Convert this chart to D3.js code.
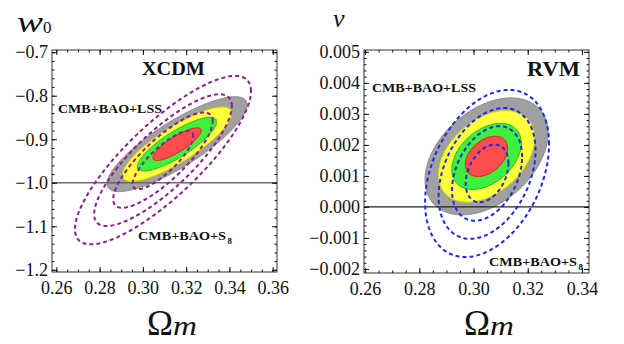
<!DOCTYPE html>
<html><head><meta charset="utf-8">
<script src="https://cdn.jsdelivr.net/npm/d3@7"></script>
<style>body{margin:0;background:#fff}svg{display:block}</style>
</head><body>
<svg id="c" width="624" height="344"></svg>
<script>
// ---------------- data ----------------
const sigmaLevels = [1.515, 2.486, 3.439, 4.397];        // 1..4 sigma (2 dof)
const fillColors  = ["#ff4d4d", "#3ff03f", "#ffff3c", "#a0a0a0"];
const fillStrokes = ["#d81c1c", "#22b522", "#d8d800", "#8a8a8a"];

// XCDM (w0 vs Omega_m)
const xcdmXTicks = [0.26, 0.28, 0.30, 0.32, 0.34, 0.36];
const xcdmYTicks = [-1.2, -1.1, -1.0, -0.9, -0.8, -0.7];
const xcdmLSSCenter = [0.3158, -0.9113];
const xcdmLSSSigma  = [0.00736, 0.0248];
const xcdmLSSRho    = 0.83;
const xcdmS8Center  = [0.3093, -0.9480];
const xcdmS8Sigma   = [0.00925, 0.0440];
const xcdmS8Rho     = 0.82;
const xcdmRefLine   = -1.0;

// RVM (nu vs Omega_m)
const rvmXTicks = [0.26, 0.28, 0.30, 0.32, 0.34];
const rvmYTicks = [-0.002, -0.001, 0.000, 0.001, 0.002, 0.003, 0.004, 0.005];
const rvmLSSCenter = [0.3048, 0.00163];
const rvmLSSSigma  = [0.00516, 0.000429];
const rvmLSSRho    = 0.40;
const rvmS8Center  = [0.3050, 0.00108];
const rvmS8Sigma   = [0.00520, 0.000613];
const rvmS8Rho     = 0.35;
const rvmRefLine   = 0.0;

// ---------------- drawing ----------------
const svg = d3.select("#c");
const SERIF = "'Liberation Serif', serif";

function txt(parent, t, px, py, fs, opts = {}) {
  const e = parent.append("text").attr("x", px).attr("y", py)
    .style("font-family", SERIF).style("font-size", fs + "px")
    .style("font-weight", opts.bold ? "bold" : "normal")
    .style("font-style", opts.italic ? "italic" : "normal")
    .attr("fill", "#111").text(t);
  if (opts.len) e.attr("textLength", opts.len).attr("lengthAdjust", "spacingAndGlyphs");
  return e;
}

function ellipse(c, s, rho, k) {
  return d3.range(160).map(i => {
    const t = 2 * Math.PI * i / 160;
    return [c[0] + k * s[0] * Math.cos(t),
            c[1] + k * s[1] * (rho * Math.cos(t) + Math.sqrt(1 - rho * rho) * Math.sin(t))];
  });
}

function panel(o) {
  const g = svg.append("g");
  const x = d3.scaleLinear().domain(o.xDom).range([o.left, o.right]);
  const y = d3.scaleLinear().domain(o.yDom).range([o.bottom, o.top]);
  const line = d3.line().x(d => x(d[0])).y(d => y(d[1])).curve(d3.curveLinearClosed);
  const clipId = "clip" + o.id;
  svg.append("clipPath").attr("id", clipId).append("rect")
    .attr("x", o.left).attr("y", o.top).attr("width", o.right - o.left).attr("height", o.bottom - o.top);
  const plot = g.append("g").attr("clip-path", `url(#${clipId})`);

  for (let i = 3; i >= 0; i--) {
    plot.append("path").attr("d", line(ellipse(o.lssC, o.lssS, o.lssR, sigmaLevels[i])))
      .attr("fill", fillColors[i]).attr("stroke", fillStrokes[i]).attr("stroke-width", 1);
  }
  plot.append("line").attr("x1", o.left).attr("x2", o.right)
    .attr("y1", y(o.ref)).attr("y2", y(o.ref))
    .attr("stroke", o.refColor).attr("stroke-width", 1.3);
  for (let i = 0; i < 4; i++) {
    plot.append("path").attr("d", line(ellipse(o.s8C, o.s8S, o.s8R, sigmaLevels[i])))
      .attr("fill", "none").attr("stroke", o.dashColor).attr("stroke-width", 2)
      .attr("stroke-dasharray", "4,3");
  }

  g.append("rect").attr("x", o.left).attr("y", o.top)
    .attr("width", o.right - o.left).attr("height", o.bottom - o.top)
    .attr("fill", "none").attr("stroke", "#333").attr("stroke-width", 1);

  const majX = o.xTicks, majY = o.yTicks;
  const minX = d3.range(o.xTicks[0] - o.xMinorStep * 2, o.xDom[1] + 1e-9, o.xMinorStep)
    .filter(v => v >= o.xDom[0] && v <= o.xDom[1]);
  const minY = d3.range(o.yTicks[0] - o.yMinorStep * 5, o.yDom[1] + 1e-9, o.yMinorStep)
    .filter(v => v >= o.yDom[0] && v <= o.yDom[1]);

  function ax(gen, tx, ty, vals, size, fmt, pad) {
    const a = g.append("g").attr("transform", `translate(${tx},${ty})`)
      .call(gen.tickValues(vals).tickSize(size).tickPadding(pad).tickFormat(fmt));
    a.select(".domain").remove();
    a.selectAll("line").attr("stroke", "#111");
    a.selectAll("text").style("font-family", SERIF).style("font-size", "18px").attr("fill", "#111");
    return a;
  }
  const none = () => "";
  ax(d3.axisBottom(x), 0, o.bottom, majX, -5, d3.format(".2f"), 9);
  ax(d3.axisBottom(x), 0, o.bottom, minX, -2.5, none, 0);
  ax(d3.axisTop(x), 0, o.top, majX, -5, none, 0);
  ax(d3.axisTop(x), 0, o.top, minX, -2.5, none, 0);
  ax(d3.axisLeft(y), o.left, 0, majY, -5, o.yFmt, 4);
  ax(d3.axisLeft(y), o.left, 0, minY, -2.5, none, 0);
  ax(d3.axisRight(y), o.right, 0, majY, -5, none, 0);
  ax(d3.axisRight(y), o.right, 0, minY, -2.5, none, 0);

  txt(g, o.title, o.titleX, o.titleY, o.titleFs, {bold: true, len: o.titleLen});
  txt(g, "CMB+BAO+LSS", o.lssX, o.lssY, 11.5, {bold: true, len: 104});
  txt(g, "CMB+BAO+S", o.s8X, o.s8Y, 11.5, {bold: true, len: 88});
  txt(g, "8", o.s8X + 89.5, o.s8Y + 3.5, 9, {bold: true});

  txt(g, "Ω", o.omX, 335, 36, {len: 26});
  txt(g, "m", o.omX + 26, 335, 28, {italic: true, len: 24});
  return {x, y, g};
}

const L = panel({
  id: "L", left: 52, right: 277, top: 50, bottom: 272,
  xDom: [0.258, 0.362], yDom: [-1.205, -0.695],
  xTicks: xcdmXTicks, yTicks: xcdmYTicks, xMinorStep: 0.005, yMinorStep: 0.02,
  yFmt: v => d3.format(".1f")(v).replace("-", "\u2212"),
  lssC: xcdmLSSCenter, lssS: xcdmLSSSigma, lssR: xcdmLSSRho,
  s8C: xcdmS8Center, s8S: xcdmS8Sigma, s8R: xcdmS8Rho,
  ref: xcdmRefLine, refColor: "#6a6a6a", dashColor: "#8c1f8c",
  title: "XCDM", titleX: 142, titleY: 75, titleFs: 19, titleLen: 63,
  lssX: 58, lssY: 113, s8X: 138, s8Y: 240, omX: 147
});
txt(L.g, "w", 17, 32, 30, {italic: true, len: 26});
txt(L.g, "0", 43, 33, 17);

const R = panel({
  id: "R", left: 364, right: 589, top: 50, bottom: 273,
  xDom: [0.2596, 0.3426], yDom: [-0.00213, 0.00506],
  xTicks: rvmXTicks, yTicks: rvmYTicks, xMinorStep: 0.005, yMinorStep: 0.0002,
  yFmt: d3.format(".3f"),
  lssC: rvmLSSCenter, lssS: rvmLSSSigma, lssR: rvmLSSRho,
  s8C: rvmS8Center, s8S: rvmS8Sigma, s8R: rvmS8Rho,
  ref: rvmRefLine, refColor: "#222", dashColor: "#1c2ae0",
  title: "RVM", titleX: 527, titleY: 76, titleFs: 21, titleLen: 53,
  lssX: 372, lssY: 92, s8X: 489, s8Y: 266, omX: 464
});
txt(R.g, "ν", 333, 27, 26, {italic: true});
</script>
</body></html>
